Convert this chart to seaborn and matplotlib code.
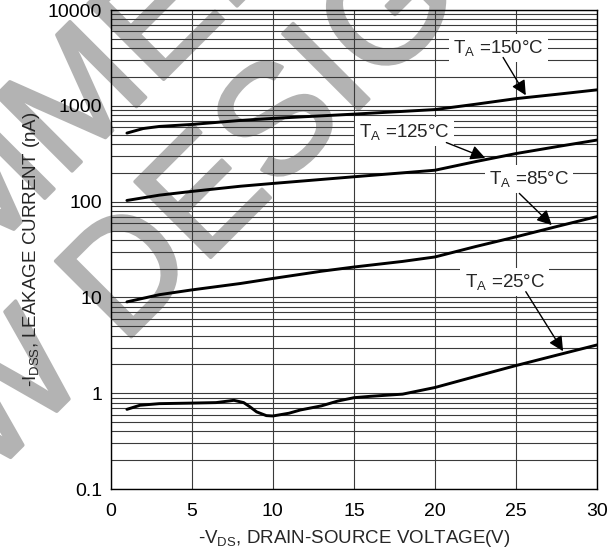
import numpy as np
import pandas as pd
import seaborn as sns
import matplotlib
matplotlib.use("Agg")
from matplotlib import pyplot as plt
from matplotlib import patheffects
from matplotlib.ticker import LogLocator, FuncFormatter, NullFormatter

# curves: -VDS (V) vs -IDSS (nA)
v_150 = [1, 2, 3, 5, 8, 10, 15, 20, 22.5, 25, 27.5, 30]
i_150 = [520, 580, 610, 640, 705, 740, 820, 915, 1040, 1190, 1320, 1470]
v_125 = [1, 3, 5, 8, 10, 15, 20, 22.5, 25, 27.5, 30]
i_125 = [103, 117, 128, 145, 155, 182, 213, 262, 318, 375, 440]
v_85 = [1, 3, 5, 8, 10, 13, 15, 18, 20, 22.5, 25, 27.5, 30]
i_85 = [9.0, 10.7, 12.0, 14.0, 15.8, 18.8, 20.8, 23.8, 26.5, 34, 43, 55, 70]
v_25 = [1, 1.8, 3, 4.9, 6.5, 7.6, 8.2, 8.6, 9.0, 9.6, 10.0, 11, 11.7, 13, 14, 15, 16, 18, 20, 22.5, 25, 27.5, 30]
i_25 = [0.68, 0.75, 0.78, 0.79, 0.80, 0.845, 0.80, 0.72, 0.64, 0.585, 0.58, 0.62, 0.67, 0.74, 0.83, 0.90, 0.93, 0.98, 1.15, 1.5, 1.95, 2.5, 3.2]

temps = ["150", "125", "85", "25"]
# label text position, arrow start, arrow tip (V, nA)
label_xy = [(23.9, 4000), (18.1, 540), (25.8, 171), (24.3, 14.6)]
arrow_from = [(24.2, 3200), (20.7, 414), (25.2, 122), (25.6, 11.5)]
arrow_to = [(25.6, 1290), (23.1, 286), (27.2, 57), (27.9, 2.75)]

xticks = [0, 5, 10, 15, 20, 25, 30]
yticks = [0.1, 1, 10, 100, 1000, 10000]

watermark = ["NOT RECOMMENDED", "FOR NEW DESIGN"]

frames = []
for t, v, i in zip(temps, [v_150, v_125, v_85, v_25], [i_150, i_125, i_85, i_25]):
    frames.append(pd.DataFrame({"vds": v, "idss": i, "temp": t}))
df = pd.concat(frames, ignore_index=True)

sns.set_style("white")
plt.rcParams["font.family"] = ["Liberation Sans", "DejaVu Sans"]
plt.rcParams["mathtext.default"] = "regular"

fig = plt.figure(figsize=(6.15, 5.59), dpi=100)
ax = fig.add_axes([0.18, 0.125, 0.791, 0.857])

sns.lineplot(data=df, x="vds", y="idss", hue="temp", units="temp", estimator=None,
             palette=["black"] * 4, linewidth=2.1, legend=False, ax=ax, zorder=3)

ax.set_yscale("log")
ax.set_xlim(0, 30)
ax.set_ylim(0.1, 10000)
ax.set_xticks(xticks)
ax.set_yticks(yticks)
ax.yaxis.set_minor_locator(LogLocator(base=10, subs=range(2, 10), numticks=20))
ax.yaxis.set_minor_formatter(NullFormatter())
ax.yaxis.set_major_formatter(FuncFormatter(lambda y, p: f"{y:g}"))
ax.set_axisbelow(True)
ax.grid(which="major", axis="both", color="#3a3a3a", lw=0.8)
ax.grid(which="minor", axis="y", color="#3a3a3a", lw=0.8)
ax.tick_params(which="both", length=0, labelsize=14, colors="black")
ax.tick_params(axis="x", pad=10)
ax.tick_params(axis="y", pad=6)
for s in ax.spines.values():
    s.set_color("black")
    s.set_linewidth(1.0)

ax.set_xlabel("-V$_{DS}$, DRAIN-SOURCE VOLTAGE(V)", fontsize=13.5, labelpad=6)
ax.set_ylabel("-I$_{DSS}$, LEAKAGE CURRENT (nA)", fontsize=13.5, labelpad=4)

for t, (lx, ly), a0, a1 in zip(temps, label_xy, arrow_from, arrow_to):
    ax.text(lx, ly, f"T$_A$ ={t}°C", fontsize=13.5, ha="center", va="center", zorder=4,
            bbox=dict(facecolor="white", edgecolor="none", pad=3))
    ax.annotate("", xy=a1, xytext=a0, zorder=4,
                arrowprops=dict(arrowstyle="-|>", color="black", lw=1.0,
                                mutation_scale=22, shrinkA=0, shrinkB=0))

# watermark, light grey, under the grid and curves
for txt, (px, py) in zip(watermark, [(-34, 277), (58, 410)]):
    ax.text(px / 615, 1 - py / 559, txt, transform=fig.transFigure, fontsize=112,
            rotation=45, rotation_mode="anchor", ha="center", va="baseline",
            color="#b3b3b3", zorder=0.3, clip_on=False,
            path_effects=[patheffects.withStroke(linewidth=2.5, foreground="#b3b3b3")])

fig.savefig("out.png", dpi=100)
